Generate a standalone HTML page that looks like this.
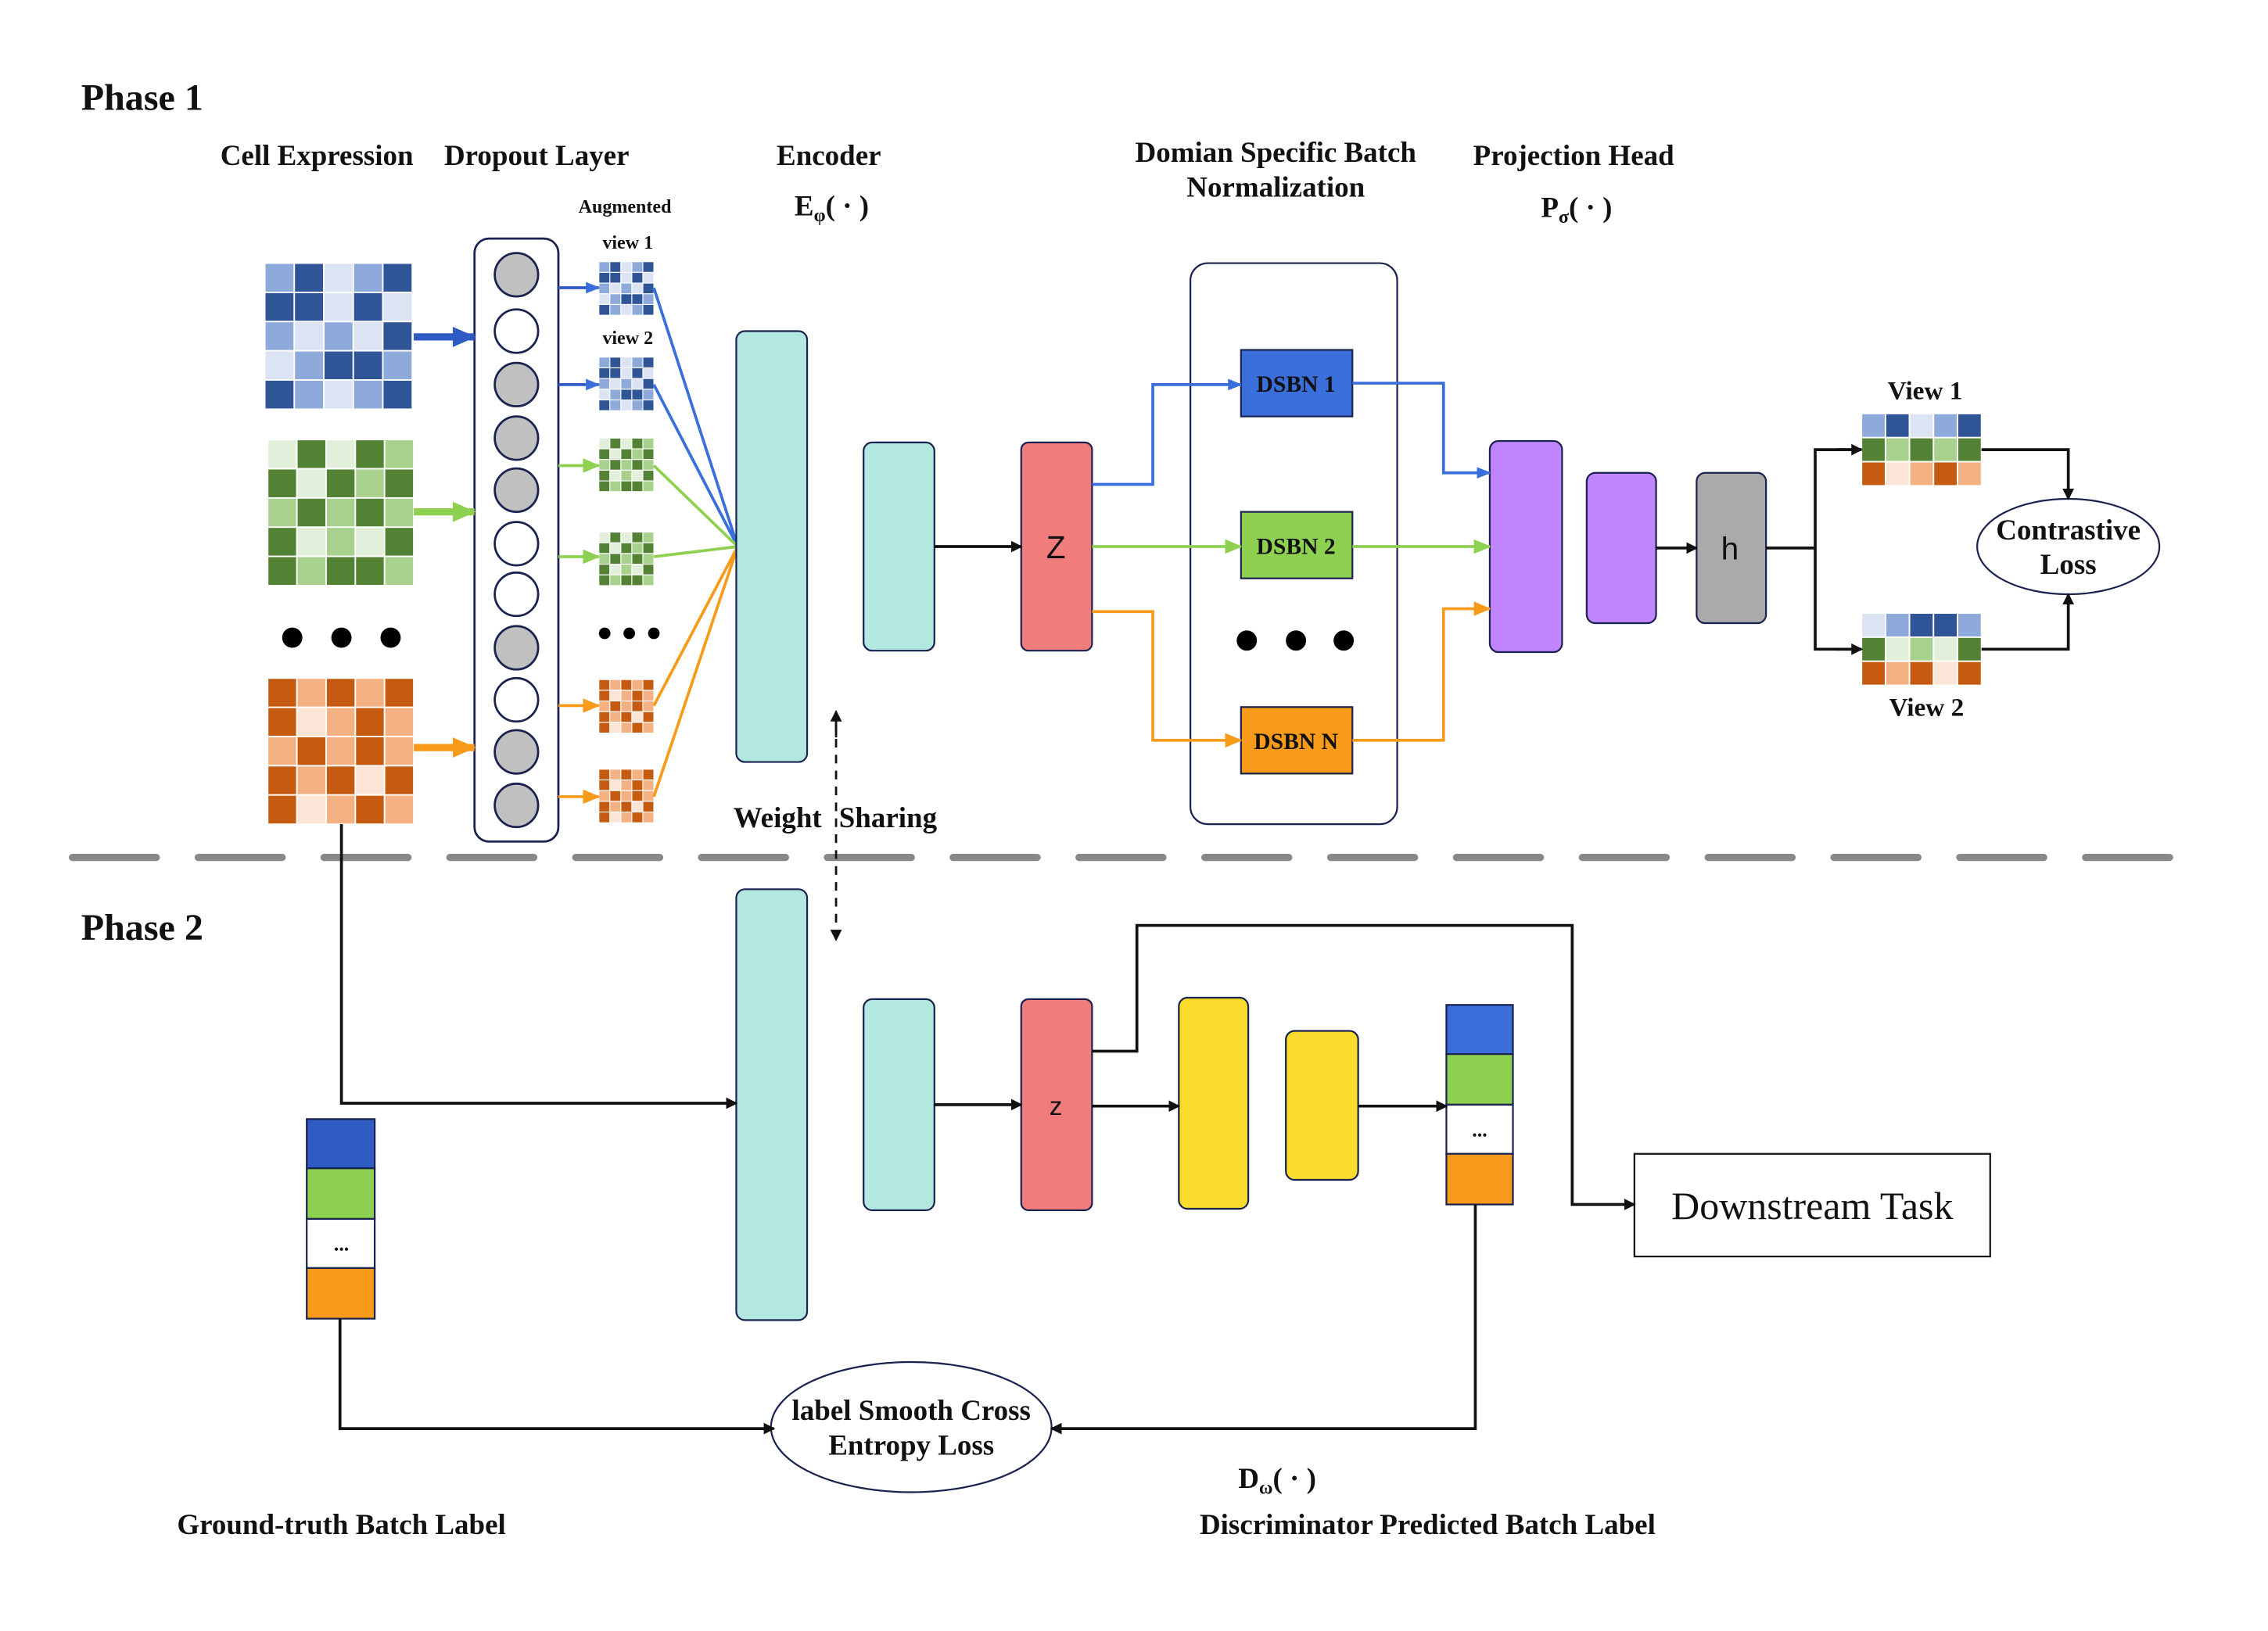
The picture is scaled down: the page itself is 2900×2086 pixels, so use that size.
<!DOCTYPE html>
<html><head><meta charset="utf-8"><style>
html,body{margin:0;padding:0;background:#fff}
svg{display:block}
text{font-family:"Liberation Serif",serif;font-weight:bold;fill:#111}
</style></head><body>
<svg id="s" width="2900" height="2086" viewBox="0 0 1568 1128" xmlns="http://www.w3.org/2000/svg">
<defs>
<marker id="ak" markerWidth="8" markerHeight="8" refX="7" refY="4" orient="auto" markerUnits="userSpaceOnUse"><path d="M0,0 L8,4 L0,8z" fill="#111"/></marker>
<marker id="ab" markerWidth="16" markerHeight="14" refX="15" refY="7" orient="auto" markerUnits="userSpaceOnUse"><path d="M0,0 L16,7 L0,14z" fill="#2e5cc4"/></marker>
<marker id="ag" markerWidth="12" markerHeight="10" refX="11" refY="5" orient="auto" markerUnits="userSpaceOnUse"><path d="M0,0 L12,5 L0,10z" fill="#8ed04f"/></marker>
<marker id="ao" markerWidth="12" markerHeight="10" refX="11" refY="5" orient="auto" markerUnits="userSpaceOnUse"><path d="M0,0 L12,5 L0,10z" fill="#f89a1a"/></marker>
<marker id="agL" markerWidth="16" markerHeight="14" refX="15" refY="7" orient="auto" markerUnits="userSpaceOnUse"><path d="M0,0 L16,7 L0,14z" fill="#8ed04f"/></marker>
<marker id="aoL" markerWidth="16" markerHeight="14" refX="15" refY="7" orient="auto" markerUnits="userSpaceOnUse"><path d="M0,0 L16,7 L0,14z" fill="#f89a1a"/></marker>
<marker id="ab2" markerWidth="10" markerHeight="8" refX="9" refY="4" orient="auto" markerUnits="userSpaceOnUse"><path d="M0,0 L10,4 L0,8z" fill="#3a6fdb"/></marker>
</defs>
<g id="grids"></g>

<text x="56" y="76" font-size="26">Phase 1</text>
<text x="56" y="650" font-size="26">Phase 2</text>
<g font-size="20" text-anchor="middle">
<text x="219" y="114">Cell Expression</text>
<text x="371" y="114">Dropout Layer</text>
<text x="573" y="114">Encoder</text>
<text x="882" y="112">Domian Specific Batch</text>
<text x="882" y="136">Normalization</text>
<text x="1088" y="114">Projection Head</text>
<text x="575" y="149">E<tspan font-size="13" dy="4">φ</tspan><tspan dy="-4">( · )</tspan></text>
<text x="1090" y="150">P<tspan font-size="13" dy="4">σ</tspan><tspan dy="-4">( · )</tspan></text>
<text x="1331" y="276" font-size="18">View 1</text>
<text x="1332" y="495" font-size="18">View 2</text>
<text x="630" y="982">label Smooth Cross</text>
<text x="630" y="1006">Entropy Loss</text>
<text x="883" y="1029">D<tspan font-size="13" dy="4">ω</tspan><tspan dy="-4">( · )</tspan></text>
<text x="987" y="1061">Discriminator  Predicted Batch Label</text>
<text x="236" y="1061">Ground-truth Batch Label</text>
</g>
<text x="507" y="572" font-size="20">Weight</text>
<text x="580" y="572" font-size="20">Sharing</text>
<g font-size="13" text-anchor="middle">
<text x="432" y="147">Augmented</text>
<text x="434" y="172">view 1</text>
<text x="434" y="238">view 2</text>
</g>

<g fill="#000">
<circle cx="202" cy="441" r="7"/><circle cx="236" cy="441" r="7"/><circle cx="270" cy="441" r="7"/>
<circle cx="418" cy="438" r="4"/><circle cx="435" cy="438" r="4"/><circle cx="452" cy="438" r="4"/>
<circle cx="862" cy="443" r="7"/><circle cx="896" cy="443" r="7"/><circle cx="929" cy="443" r="7"/>
</g>

<rect x="328" y="165" width="58" height="417" rx="10" fill="#fff" stroke="#1a2350" stroke-width="1.5"/>
<g id="circ" stroke="#1a2350" stroke-width="1.5"></g>

<line x1="286" y1="233" x2="328" y2="233" stroke="#2e5cc4" stroke-width="5" marker-end="url(#ab)"/>
<line x1="286" y1="354" x2="328" y2="354" stroke="#8ed04f" stroke-width="5" marker-end="url(#agL)"/>
<line x1="286" y1="517" x2="328" y2="517" stroke="#f89a1a" stroke-width="5" marker-end="url(#aoL)"/>
<g stroke-width="2">
<line x1="386" y1="199" x2="414" y2="199" stroke="#2e5cc4" marker-end="url(#ab2)"/>
<line x1="386" y1="266" x2="414" y2="266" stroke="#2e5cc4" marker-end="url(#ab2)"/>
<line x1="386" y1="322" x2="414" y2="322" stroke="#8ed04f" marker-end="url(#ag)"/>
<line x1="386" y1="385" x2="414" y2="385" stroke="#8ed04f" marker-end="url(#ag)"/>
<line x1="386" y1="488" x2="414" y2="488" stroke="#f89a1a" marker-end="url(#ao)"/>
<line x1="386" y1="551" x2="414" y2="551" stroke="#f89a1a" marker-end="url(#ao)"/>
<line x1="452" y1="199" x2="510" y2="378" stroke="#3a6fdb"/>
<line x1="452" y1="266" x2="510" y2="378" stroke="#3a6fdb"/>
<line x1="452" y1="322" x2="510" y2="378" stroke="#8ed04f"/>
<line x1="452" y1="385" x2="510" y2="378" stroke="#8ed04f"/>
<line x1="452" y1="488" x2="510" y2="378" stroke="#f89a1a"/>
<line x1="452" y1="551" x2="510" y2="378" stroke="#f89a1a"/>
</g>

<g stroke="#1a2350" stroke-width="1.2">
<rect x="509" y="229" width="49" height="298" rx="6" fill="#b2e8e0"/>
<rect x="597" y="306" width="49" height="144" rx="6" fill="#b2e8e0"/>
<rect x="706" y="306" width="49" height="144" rx="5" fill="#f07c7c"/>
<rect x="823" y="182" width="143" height="388" rx="12" fill="none"/>
<rect x="858" y="242" width="77" height="46" fill="#3a6fdb"/>
<rect x="858" y="354" width="77" height="46" fill="#8ed04f"/>
<rect x="858" y="489" width="77" height="46" fill="#f89a1a"/>
<rect x="1030" y="305" width="50" height="146" rx="6" fill="#c084fc"/>
<rect x="1097" y="327" width="48" height="104" rx="6" fill="#c084fc"/>
<rect x="1173" y="327" width="48" height="104" rx="6" fill="#aaaaaa"/>
<ellipse cx="1430" cy="378" rx="63" ry="33" fill="#fff"/>
</g>
<g font-size="20" text-anchor="middle">
<text x="1430" y="373">Contrastive</text>
<text x="1430" y="397">Loss</text>
</g>
<g font-size="16" text-anchor="middle">
<text x="896" y="271">DSBN 1</text><text x="896" y="383">DSBN 2</text><text x="896" y="518">DSBN N</text>
</g>
<text x="730" y="386" font-size="22" text-anchor="middle" style="font-family:'Liberation Sans',sans-serif;font-weight:normal">Z</text>
<text x="1196" y="387" font-size="22" text-anchor="middle" style="font-family:'Liberation Sans',sans-serif;font-weight:normal">h</text>

<g fill="none" stroke-width="2">
<line x1="646" y1="378" x2="706" y2="378" stroke="#111" marker-end="url(#ak)"/>
<polyline points="755,335 797,335 797,266 858,266" stroke="#3a6fdb" marker-end="url(#ab2)"/>
<line x1="755" y1="378" x2="858" y2="378" stroke="#8ed04f" marker-end="url(#ag)"/>
<polyline points="755,423 797,423 797,512 858,512" stroke="#f89a1a" marker-end="url(#ao)"/>
<polyline points="935,265 998,265 998,327 1030,327" stroke="#3a6fdb" marker-end="url(#ab2)"/>
<line x1="935" y1="378" x2="1030" y2="378" stroke="#8ed04f" marker-end="url(#ag)"/>
<polyline points="935,512 998,512 998,421 1030,421" stroke="#f89a1a" marker-end="url(#ao)"/>
<line x1="1145" y1="379" x2="1173" y2="379" stroke="#111" marker-end="url(#ak)"/>
<polyline points="1221,379 1255,379" stroke="#111"/>
<polyline points="1287,311 1255,311 1255,449 1287,449" stroke="#111"/>
<line x1="1270" y1="311" x2="1287" y2="311" stroke="#111" marker-end="url(#ak)"/>
<line x1="1270" y1="449" x2="1287" y2="449" stroke="#111" marker-end="url(#ak)"/>
<polyline points="1370,311 1430,311 1430,345" stroke="#111" marker-end="url(#ak)"/>
<polyline points="1370,449 1430,449 1430,411" stroke="#111" marker-end="url(#ak)"/>
</g>

<line x1="50" y1="593" x2="1525" y2="593" stroke="#888" stroke-width="5" stroke-linecap="round" stroke-dasharray="58 29"/>
<line x1="578" y1="500" x2="578" y2="650" stroke="#111" stroke-width="1.5" stroke-dasharray="6 5" marker-end="url(#ak)"/>
<line x1="578" y1="510" x2="578" y2="492" stroke="#111" stroke-width="1.5" marker-end="url(#ak)"/>

<g stroke="#1a2350" stroke-width="1.2">
<rect x="509" y="615" width="49" height="298" rx="6" fill="#b2e8e0"/>
<rect x="597" y="691" width="49" height="146" rx="6" fill="#b2e8e0"/>
<rect x="706" y="691" width="49" height="146" rx="5" fill="#f07c7c"/>
<rect x="815" y="690" width="48" height="146" rx="6" fill="#f9dc2c"/>
<rect x="889" y="713" width="50" height="103" rx="6" fill="#f9dc2c"/>
<rect x="1000" y="695" width="46" height="34" fill="#3a6fdb"/>
<rect x="1000" y="729" width="46" height="35" fill="#8ed04f"/>
<rect x="1000" y="764" width="46" height="34" fill="#fff"/>
<rect x="1000" y="798" width="46" height="35" fill="#f89a1a"/>
<rect x="212" y="774" width="47" height="34" fill="#2e5cc4"/>
<rect x="212" y="808" width="47" height="35" fill="#8ed04f"/>
<rect x="212" y="843" width="47" height="34" fill="#fff"/>
<rect x="212" y="877" width="47" height="35" fill="#f89a1a"/>
<rect x="1130" y="798" width="246" height="71" fill="#fff" stroke="#111"/>
<ellipse cx="630" cy="987" rx="97" ry="45" fill="none"/>
</g>
<text x="1023" y="786" font-size="14" text-anchor="middle">...</text>
<text x="236" y="865" font-size="14" text-anchor="middle">...</text>
<text x="730" y="771" font-size="18" text-anchor="middle" style="font-family:'Liberation Sans',sans-serif;font-weight:normal">z</text>
<text x="1253" y="843" font-size="27" text-anchor="middle" style="font-weight:normal">Downstream Task</text>
<g fill="none" stroke="#111" stroke-width="2">
<polyline points="236,570 236,763 509,763" marker-end="url(#ak)"/>
<line x1="646" y1="764" x2="706" y2="764" marker-end="url(#ak)"/>
<line x1="755" y1="765" x2="815" y2="765" marker-end="url(#ak)"/>
<line x1="939" y1="765" x2="1000" y2="765" marker-end="url(#ak)"/>
<polyline points="755,727 786,727 786,640 1087,640 1087,833 1130,833" marker-end="url(#ak)"/>
<polyline points="235,912 235,988 535,988" marker-end="url(#ak)"/>
<polyline points="1020,833 1020,988 727,988" marker-end="url(#ak)"/>
</g>
</svg>
<script>
var NS="http://www.w3.org/2000/svg",g=document.getElementById("grids");
var C={b:["#dce3f3","#8eaadb","#2f5597"],g:["#e2efda","#a9d18e","#548235"],o:["#fce4d6","#f4b183","#c55a11"]};
var P={b:[[1,2,0,1,2],[2,2,0,2,0],[1,0,1,0,2],[0,1,2,2,1],[2,1,0,1,2]],
g:[[0,2,0,2,1],[2,0,2,1,2],[1,2,1,2,1],[2,0,1,0,2],[2,1,2,2,1]],
o:[[2,1,2,1,2],[2,0,1,2,1],[1,2,1,2,1],[2,1,2,0,2],[2,0,1,2,1]]};
function r(x,y,w,h,f){var e=document.createElementNS(NS,"rect");e.setAttribute("x",x);e.setAttribute("y",y);e.setAttribute("width",w);e.setAttribute("height",h);e.setAttribute("fill",f);e.setAttribute("stroke","#fff");e.setAttribute("stroke-width",w>15?1:0.6);g.appendChild(e);}
function grid(k,x,y,w,h){var p=P[k],cw=w/5,ch=h/5;for(var i=0;i<5;i++)for(var j=0;j<5;j++)r(x+j*cw,y+i*ch,cw,ch,C[k][p[i][j]]);}
grid("b",183,182,102,101);grid("g",185,304,101,101);grid("o",185,469,101,101);
[["b",181],["b",247],["g",303],["g",368],["o",470],["o",532]].forEach(function(a){grid(a[0],414,a[1],38,37);});
function strip(x,y,rows){var cw=83/5,ch=50/3;rows.forEach(function(rw,i){for(var j=0;j<5;j++)r(x+j*cw,y+i*ch,cw,ch,C[rw[0]][rw[1][j]]);});}
strip(1287,286,[["b",[1,2,0,1,2]],["g",[2,1,2,1,2]],["o",[2,0,1,2,1]]]);
strip(1287,424,[["b",[0,1,2,2,1]],["g",[2,0,1,0,2]],["o",[2,1,2,0,2]]]);
var cy=[190,229,266,303,339,376,411,448,484,520,557],fl=[1,0,1,1,1,0,0,1,0,1,1],cc=document.getElementById("circ");
cy.forEach(function(y,i){var e=document.createElementNS(NS,"ellipse");e.setAttribute("cx",357);e.setAttribute("cy",y);e.setAttribute("rx",15);e.setAttribute("ry",15);e.setAttribute("fill",fl[i]?"#c0c0c0":"#fff");cc.appendChild(e);});
</script>
</body></html>
